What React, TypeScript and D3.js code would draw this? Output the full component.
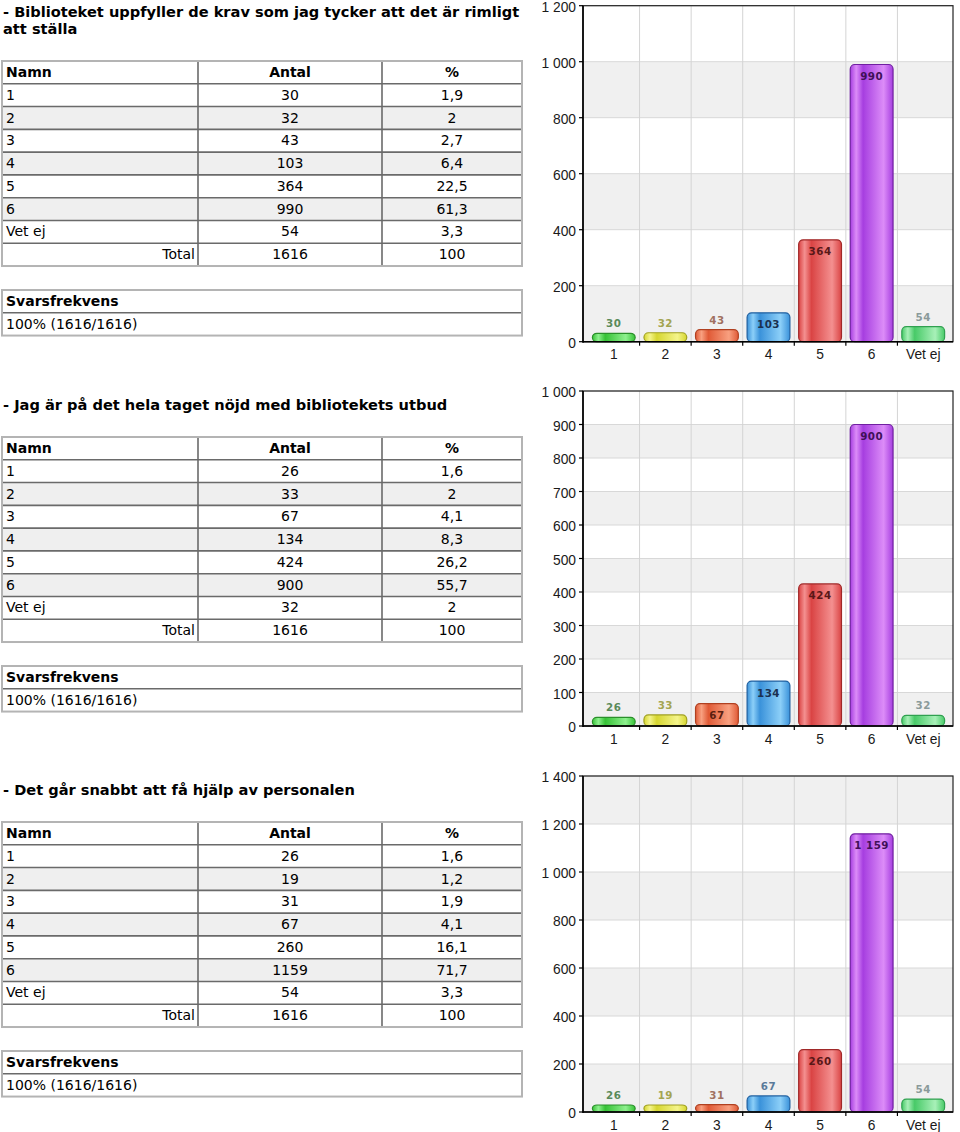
import React from 'react';
import * as d3 from 'd3';

const categories = ['1', '2', '3', '4', '5', '6', 'Vet ej'];

const titles = [
  ['- Biblioteket uppfyller de krav som jag tycker att det är rimligt', 'att ställa'],
  ['- Jag är på det hela taget nöjd med bibliotekets utbud'],
  ['- Det går snabbt att få hjälp av personalen'],
];

const counts1 = [30, 32, 43, 103, 364, 990, 54];
const pct1 = ['1,9', '2', '2,7', '6,4', '22,5', '61,3', '3,3'];
const counts2 = [26, 33, 67, 134, 424, 900, 32];
const pct2 = ['1,6', '2', '4,1', '8,3', '26,2', '55,7', '2'];
const counts3 = [26, 19, 31, 67, 260, 1159, 54];
const pct3 = ['1,6', '1,2', '1,9', '4,1', '16,1', '71,7', '3,3'];

const yMaxes = [1200, 1000, 1400];
const ySteps = [200, 100, 200];
const totals = [1616, 1616, 1616];
const totalPct = ['100', '100', '100'];
const responseRates = ['100% (1616/1616)', '100% (1616/1616)', '100% (1616/1616)'];

const headers = ['Namn', 'Antal', '%'];

// styling
const barBase = ['#36c236', '#d6d630', '#e05a36', '#3a92da', '#da4444', '#a63ee0', '#48ca68'];
const barLight = ['#8ef08e', '#f4f48a', '#f8a080', '#8ccff8', '#f49090', '#dc8cf8', '#a8f0b8'];
const barDark = ['#2a8f2a', '#a0a020', '#b04020', '#2060a0', '#a02828', '#7020a0', '#30a050'];
const outsideLabel = ['#5a8a5a', '#a4a450', '#a07060', '#5a7a9a', '#a06060', '#806090', '#8a9a9a'];
const insideLabel = ['#204020', '#505010', '#5a2010', '#1a3050', '#5a1818', '#401058', '#204030'];

const countsAll = [counts1, counts2, counts3];
const pctAll = [pct1, pct2, pct3];

// layout
const sectionOffsets = [0, 376, 761];
const plotTops = [5.7, 391, 776];
const plotBottoms = [341.7, 726, 1112];
const plotLeft = 583;
const plotRight = 953;
const bandLeft = 588;
const bandRight = 949;

const tableLeft = 2;
const tableRight = 522;
const col1 = 198;
const col2 = 382;
const rowH = 22.78;

const fmt = d3.formatLocale({ decimal: ',', thousands: '\u00a0', grouping: [3], currency: ['', ''] }).format(',d');

const tableFont = '"DejaVu Sans", Verdana, sans-serif';
const axisFont = '"Liberation Sans", Arial, sans-serif';

function Table({ idx }: { idx: number }) {
  const off = sectionOffsets[idx];
  const top = off + 61;
  const counts = countsAll[idx];
  const pcts = pctAll[idx];
  const nRows = categories.length + 2;
  const bottom = top + nRows * rowH;
  const rows: any[] = [];
  const cx1 = (col1 + col2) / 2;
  const cx2 = (col2 + tableRight) / 2;
  rows.push(
    <g key="h">
      <text x={tableLeft + 4} y={top + 16} fontWeight="bold">{headers[0]}</text>
      <text x={cx1} y={top + 16} fontWeight="bold" textAnchor="middle">{headers[1]}</text>
      <text x={cx2} y={top + 16} fontWeight="bold" textAnchor="middle">{headers[2]}</text>
    </g>
  );
  categories.forEach((c, i) => {
    const ry = top + (i + 1) * rowH;
    rows.push(
      <g key={c}>
        {i % 2 === 1 && <rect x={tableLeft} y={ry} width={tableRight - tableLeft} height={rowH} fill="#efefef" />}
        <text x={tableLeft + 4} y={ry + 16}>{c}</text>
        <text x={cx1} y={ry + 16} textAnchor="middle">{counts[i]}</text>
        <text x={cx2} y={ry + 16} textAnchor="middle">{pcts[i]}</text>
      </g>
    );
  });
  const ty = top + (categories.length + 1) * rowH;
  rows.push(
    <g key="t">
      <text x={col1 - 3} y={ty + 16} textAnchor="end">Total</text>
      <text x={cx1} y={ty + 16} textAnchor="middle">{totals[idx]}</text>
      <text x={cx2} y={ty + 16} textAnchor="middle">{totalPct[idx]}</text>
    </g>
  );
  const lines: any[] = [];
  for (let r = 1; r < nRows; r++) {
    const yy = top + r * rowH;
    lines.push(<line key={'r' + r} x1={tableLeft} x2={tableRight} y1={yy} y2={yy} stroke="#6a6a6a" strokeWidth={1.6} />);
  }
  [col1, col2].forEach((cx, k) =>
    lines.push(<line key={'c' + k} x1={cx} x2={cx} y1={top} y2={bottom} stroke="#6a6a6a" strokeWidth={1.6} />)
  );
  const sTop = off + 290;
  return (
    <g fontFamily={tableFont} fontSize={14} fill="#000">
      {titles[idx].map((t, k) => (
        <text key={k} x={3} y={off + 34 - (titles[idx].length - 1 - k) * 17} fontWeight="bold" fontSize={14.6}>{t}</text>
      ))}
      {rows}
      {lines}
      <rect x={tableLeft} y={top} width={tableRight - tableLeft} height={bottom - top} fill="none" stroke="#b4b4b4" strokeWidth={2} />
      <text x={tableLeft + 4} y={sTop + 16} fontWeight="bold">Svarsfrekvens</text>
      <text x={tableLeft + 4} y={sTop + rowH + 16}>{responseRates[idx]}</text>
      <line x1={tableLeft} x2={tableRight} y1={sTop + rowH} y2={sTop + rowH} stroke="#6a6a6a" strokeWidth={1.6} />
      <rect x={tableLeft} y={sTop} width={tableRight - tableLeft} height={rowH * 2} fill="none" stroke="#b4b4b4" strokeWidth={2} />
    </g>
  );
}

function Chart({ idx }: { idx: number }) {
  const counts = countsAll[idx];
  const top = plotTops[idx];
  const bottom = plotBottoms[idx];
  const y = d3.scaleLinear().domain([0, yMaxes[idx]]).range([bottom, top]);
  const x = d3.scaleBand<string>().domain(categories).range([bandLeft, bandRight]).paddingInner(0.17).paddingOuter(0.085);
  const step = x.step();
  const ticks = d3.range(0, yMaxes[idx] + 1, ySteps[idx]);
  const bw = x.bandwidth();
  const boundaries = categories.slice(1).map((c) => (x(c) as number) - (step - bw) / 2);
  return (
    <g>
      <rect x={plotLeft} y={top} width={plotRight - plotLeft} height={bottom - top} fill="#fff" />
      {ticks.slice(0, -1).map((t, i) =>
        i % 2 === 0 ? (
          <rect key={'b' + t} x={plotLeft} y={y(t + ySteps[idx])} width={plotRight - plotLeft} height={y(t) - y(t + ySteps[idx])} fill="#f0f0f0" />
        ) : null
      )}
      {ticks.map((t) => (
        <line key={'g' + t} x1={plotLeft} x2={plotRight} y1={y(t)} y2={y(t)} stroke="#d8d8d8" strokeWidth={1} />
      ))}
      {boundaries.map((bx, i) => (
        <line key={'v' + i} x1={bx} x2={bx} y1={top} y2={bottom} stroke="#d4d4d4" strokeWidth={1} />
      ))}
      {counts.map((v, i) => {
        const c = categories[i];
        const bx = x(c) as number;
        const by = y(v);
        const h = Math.max(bottom - by, 7);
        const gid = `grad-${idx}-${i}`;
        const inside = bottom - by >= 20;
        return (
          <g key={c}>
            <defs>
              <linearGradient id={gid} x1="0" x2="1" y1="0" y2="0">
                <stop offset="0%" stopColor={barBase[i]} />
                <stop offset="14%" stopColor={barLight[i]} />
                <stop offset="30%" stopColor={barBase[i]} />
                <stop offset="78%" stopColor={barLight[i]} />
                <stop offset="100%" stopColor={barBase[i]} />
              </linearGradient>
            </defs>
            <rect x={bx} y={bottom - h} width={bw} height={h} rx={4.5} ry={4.5} fill={`url(#${gid})`} stroke={barDark[i]} strokeWidth={1.2} />
            <text
              x={bx + bw / 2}
              y={inside ? by + 15.5 : bottom - h - 6}
              textAnchor="middle"
              fontFamily={tableFont}
              fontWeight="bold"
              fontSize={10.3}
              letterSpacing={0.5}
              fill={inside ? insideLabel[i] : outsideLabel[i]}
            >
              {fmt(v)}
            </text>
          </g>
        );
      })}
      <rect x={plotLeft} y={top} width={plotRight - plotLeft} height={bottom - top} fill="none" stroke="#222" strokeWidth={1.2} />
      <line x1={plotLeft} x2={plotLeft} y1={top} y2={bottom + 1} stroke="#000" strokeWidth={1.6} />
      <line x1={plotLeft} x2={plotRight} y1={bottom} y2={bottom} stroke="#000" strokeWidth={1.6} />
      {ticks.map((t) => (
        <g key={'yt' + t}>
          <line x1={plotLeft - 4} x2={plotLeft} y1={y(t)} y2={y(t)} stroke="#000" strokeWidth={1.2} />
          <text x={576} y={y(t) + 6} textAnchor="end" fontFamily={axisFont} fontSize={13.8} fill="#1a1a1a">{fmt(t)}</text>
        </g>
      ))}
      {boundaries.map((bx, i) => (
        <line key={'xt' + i} x1={bx} x2={bx} y1={bottom} y2={bottom + 4} stroke="#000" strokeWidth={1.2} />
      ))}
      {categories.map((c) => (
        <text key={'xl' + c} x={(x(c) as number) + bw / 2} y={bottom + 17.5} textAnchor="middle" fontFamily={axisFont} fontSize={13.8} fill="#1a1a1a">{c}</text>
      ))}
    </g>
  );
}

export default function App() {
  return (
    <div style={{ position: 'absolute', left: 0, top: 0 }}>
      <svg width={960} height={1132} style={{ display: 'block', background: '#fff' }}>
        {[0, 1, 2].map((i) => (
          <g key={i}>
            <Table idx={i} />
            <Chart idx={i} />
          </g>
        ))}
      </svg>
    </div>
  );
}
